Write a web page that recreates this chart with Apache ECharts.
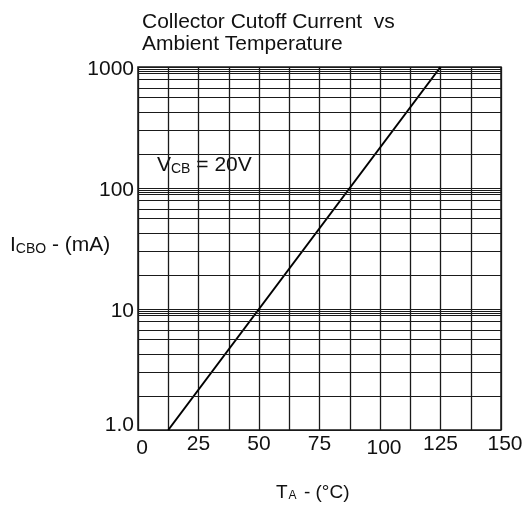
<!DOCTYPE html>
<html>
<head>
<meta charset="utf-8">
<script src="https://cdn.jsdelivr.net/npm/echarts@6/dist/echarts.min.js"></script>
<style>html,body{margin:0;padding:0;background:#fff}#c{width:526px;height:512px}</style>
</head>
<body>
<div id="c"></div>
<script>
// Data
var titleLines = ['Collector Cutoff Current  vs', 'Ambient Temperature'];
var temperature = [12.5, 125];        // T_A (°C)
var current = [1, 1000];              // I_CBO (mA)
var xTicks = [0, 25, 50, 75, 100, 125, 150];
var yTicks = [1, 10, 100, 1000];
var yTickLabels = ['1.0', '10', '100', '1000'];
var decades = [1, 10, 100];
var minorMultipliers = [1.9, 3.0, 4.2, 5.6, 6.7, 7.9, 8.8, 9.3, 9.6]; // as drawn in the reference grid

var minorY = [];
decades.forEach(function (d) { minorMultipliers.forEach(function (m) { minorY.push(d * m); }); });

var chart = echarts.init(document.getElementById('c'), null, {renderer: 'canvas'});
var font = 'Liberation Sans, Arial, sans-serif';
var gridColor = '#1a1a1a';
var txt = '#111';

var seriesData = temperature.map(function (t, i) { return [t, current[i]]; });

chart.setOption({
  animation: false,
  backgroundColor: '#fff',
  title: {
    text: titleLines.join('\n'),
    left: 142, top: 11, padding: 0,
    textStyle: {fontFamily: font, fontSize: 21, fontWeight: 'normal', color: txt, lineHeight: 22}
  },
  grid: {left: 138, right: 25, top: 67, bottom: 82, show: true, borderColor: gridColor, borderWidth: 1.5},
  xAxis: {
    type: 'value', min: 0, max: 150, interval: 12.5,
    axisLine: {show: false}, axisTick: {show: false},
    axisLabel: {
      margin: 4, fontFamily: font, fontSize: 21, color: txt,
      formatter: function (v) {
        if (xTicks.indexOf(v) < 0) return '';
        if (v === 0 || v === 100) return '{lo|' + v + '}';
        if (v === 150) return '{r|' + v + '}';
        return '{n|' + v + '}';
      },
      rich: {
        n: {fontFamily: font, fontSize: 21, color: txt},
        lo: {fontFamily: font, fontSize: 21, color: txt, padding: [4, 0, 0, 8]},
        r: {fontFamily: font, fontSize: 21, color: txt, padding: [0, 0, 0, 8]}
      }
    },
    splitLine: {show: true, lineStyle: {color: gridColor, width: 1.3}}
  },
  yAxis: {
    type: 'log', logBase: 10, min: 1, max: 1000,
    axisLine: {show: false}, axisTick: {show: false},
    axisLabel: {
      margin: 4, fontFamily: font, fontSize: 21, color: txt,
      formatter: function (v) {
        var i = yTicks.indexOf(Math.round(v));
        if (i < 0) return '';
        return (i === 0 ? '{b|' : '{n|') + yTickLabels[i] + '}';
      },
      rich: {
        n: {fontFamily: font, fontSize: 21, color: txt, padding: [4, 0, 0, 0]},
        b: {fontFamily: font, fontSize: 21, color: txt, padding: [0, 0, 10, 0]}
      }
    },
    splitLine: {show: true, lineStyle: {color: gridColor, width: 1.1}}
  },
  graphic: [
    {type: 'text', left: 10, top: 235,
      style: {text: '{n|I}{s|CBO}{n| - (mA)}', rich: {n: {fontFamily: font, fontSize: 21, fill: txt}, s: {fontFamily: font, fontSize: 14, fill: txt, verticalAlign: 'bottom'}}}},
    {type: 'text', left: 157, top: 155,
      style: {text: '{n|V}{s|CB}{n| = 20V}', rich: {n: {fontFamily: font, fontSize: 21, fill: txt}, s: {fontFamily: font, fontSize: 14, fill: txt, verticalAlign: 'bottom'}}}},
    {type: 'text', left: 276, top: 483,
      style: {text: '{n|T}{s|A}{n| - (°C)}', rich: {n: {fontFamily: font, fontSize: 19, fill: txt}, s: {fontFamily: font, fontSize: 12, fill: txt, verticalAlign: 'bottom', padding: [0, 2, 0, 1]}}}}
  ],
  series: [{
    type: 'line',
    data: seriesData,
    symbol: 'none',
    lineStyle: {color: '#000', width: 2},
    markLine: {
      silent: true, symbol: 'none', label: {show: false},
      lineStyle: {color: gridColor, width: 1.1, type: 'solid'},
      data: minorY.map(function (v) { return {yAxis: v}; })
    }
  }]
});
</script>
</body>
</html>
